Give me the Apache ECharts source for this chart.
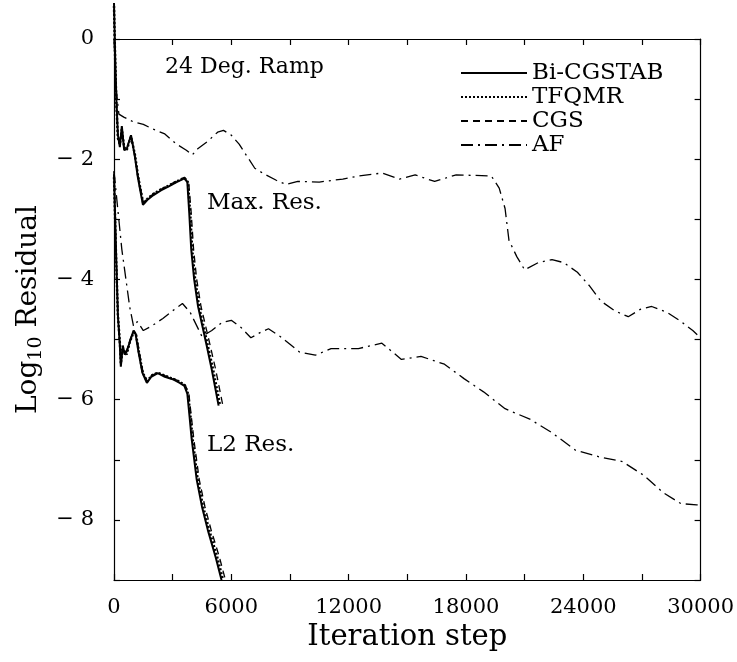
<!DOCTYPE html>
<html>
<head>
<meta charset="utf-8">
<script src="https://cdn.jsdelivr.net/npm/echarts@6/dist/echarts.min.js"></script>
<style>html,body{margin:0;padding:0;background:#fff;}#c{width:737px;height:662px;}</style>
</head>
<body>
<div id="c"></div>
<script>
// ---- data (iteration step, log10 residual) ----
const xTicks = [0, 6000, 12000, 18000, 24000, 30000];
const yTicks = [0, -2, -4, -6, -8];
const legendNames = ['Bi-CGSTAB', 'TFQMR', 'CGS', 'AF'];

const bicgstabMax = [[0,0.6],[60,-0.3],[120,-1.0],[200,-1.6],[300,-1.8],[400,-1.45],[520,-1.85],[650,-1.83],[870,-1.6],[1070,-1.96],[1220,-2.3],[1480,-2.76],[1700,-2.68],[2000,-2.6],[2400,-2.52],[2800,-2.45],[3200,-2.38],[3600,-2.32],[3750,-2.38],[3850,-2.9],[3950,-3.5],[4100,-4.0],[4300,-4.45],[4740,-5.1],[5000,-5.5],[5350,-6.1]];
const tfqmrMax = [[0,0.55],[60,-0.35],[120,-1.05],[200,-1.65],[300,-1.75],[400,-1.5],[520,-1.8],[650,-1.85],[870,-1.62],[1070,-1.92],[1240,-2.3],[1500,-2.74],[1700,-2.66],[2000,-2.58],[2400,-2.5],[2800,-2.44],[3200,-2.37],[3600,-2.31],[3780,-2.38],[3900,-2.9],[4000,-3.5],[4150,-4.0],[4350,-4.45],[4800,-5.1],[5070,-5.5],[5430,-6.1]];
const cgsMax = [[0,0.5],[60,-0.4],[120,-1.1],[200,-1.6],[300,-1.78],[400,-1.5],[520,-1.82],[650,-1.8],[870,-1.62],[1070,-1.95],[1250,-2.3],[1500,-2.72],[1700,-2.66],[2000,-2.58],[2400,-2.5],[2800,-2.43],[3200,-2.36],[3600,-2.3],[3820,-2.38],[3950,-2.9],[4070,-3.5],[4230,-4.0],[4450,-4.45],[4920,-5.1],[5200,-5.5],[5600,-6.15]];
const afMax = [[0,0],[100,-0.8],[250,-1.25],[500,-1.3],[1000,-1.38],[1500,-1.42],[2000,-1.5],[2600,-1.58],[3200,-1.75],[3700,-1.85],[4000,-1.93],[4300,-1.82],[4800,-1.7],[5300,-1.55],[5600,-1.52],[6000,-1.6],[6400,-1.75],[6800,-1.95],[7200,-2.15],[7700,-2.25],[8300,-2.35],[8800,-2.42],[9400,-2.37],[10500,-2.38],[11700,-2.33],[12500,-2.28],[13700,-2.23],[14600,-2.33],[15400,-2.26],[16400,-2.37],[17500,-2.26],[18500,-2.27],[19300,-2.28],[19700,-2.48],[20000,-2.82],[20200,-3.35],[20600,-3.62],[21000,-3.84],[21700,-3.72],[22400,-3.67],[23000,-3.72],[23700,-3.88],[24300,-4.1],[24900,-4.36],[25600,-4.52],[26300,-4.62],[26900,-4.5],[27500,-4.45],[28300,-4.55],[29000,-4.7],[29600,-4.85],[30000,-4.97]];

const bicgstabL2 = [[0,-2.25],[100,-3.5],[200,-4.6],[300,-5.1],[350,-5.45],[450,-5.1],[550,-5.25],[650,-5.2],[800,-5.05],[1000,-4.85],[1100,-4.9],[1250,-5.2],[1450,-5.55],[1680,-5.72],[1900,-5.62],[2240,-5.56],[2600,-5.62],[3000,-5.66],[3360,-5.72],[3600,-5.77],[3750,-5.9],[3870,-6.3],[3970,-6.65],[4230,-7.33],[4500,-7.78],[4800,-8.17],[5200,-8.62],[5500,-9.0]];
const tfqmrL2 = [[0,-2.3],[100,-3.55],[200,-4.6],[300,-5.05],[350,-5.4],[450,-5.15],[550,-5.2],[650,-5.25],[800,-5.05],[1000,-4.88],[1120,-4.9],[1270,-5.2],[1470,-5.55],[1700,-5.7],[1900,-5.6],[2240,-5.55],[2600,-5.6],[3000,-5.65],[3360,-5.7],[3620,-5.76],[3790,-5.9],[3920,-6.3],[4020,-6.65],[4280,-7.33],[4560,-7.78],[4870,-8.17],[5280,-8.62],[5580,-9.0]];
const cgsL2 = [[0,-2.2],[100,-3.45],[200,-4.55],[300,-5.1],[350,-5.4],[450,-5.12],[550,-5.22],[650,-5.18],[800,-5.02],[1000,-4.85],[1140,-4.92],[1290,-5.2],[1490,-5.55],[1700,-5.7],[1900,-5.6],[2240,-5.55],[2600,-5.6],[3000,-5.64],[3360,-5.7],[3650,-5.76],[3830,-5.9],[3960,-6.3],[4080,-6.65],[4360,-7.33],[4650,-7.78],[4970,-8.17],[5390,-8.62],[5700,-9.0]];
const afL2 = [[0,-2.2],[400,-3.5],[800,-4.45],[1000,-4.78],[1200,-4.7],[1500,-4.85],[1900,-4.78],[2500,-4.65],[3000,-4.52],[3500,-4.4],[3900,-4.55],[4500,-4.95],[5000,-4.85],[5500,-4.72],[6000,-4.68],[6500,-4.8],[7000,-4.97],[7500,-4.88],[7900,-4.82],[8500,-4.95],[9000,-5.08],[9500,-5.21],[10300,-5.26],[11100,-5.15],[12500,-5.15],[13700,-5.06],[14700,-5.33],[15700,-5.28],[16900,-5.41],[17900,-5.65],[18900,-5.87],[20000,-6.15],[21300,-6.33],[22400,-6.55],[23600,-6.84],[24800,-6.95],[26000,-7.03],[27100,-7.26],[28100,-7.55],[29000,-7.73],[29800,-7.75],[30000,-7.75]];

const FONT = 'DejaVu Serif';
const solid = {color:'#000', width:2, type:'solid'};
const dotted = {color:'#000', width:2.4, type:[2,2]};
const dashed = {color:'#000', width:1.3, type:[7,5]};
const dashdot = {color:'#000', width:1.3, type:[12,5,2,5]};

function ser(name, data, ls, z) {
  return {name:name, type:'line', data:data, symbol:'none', clip:false, lineStyle:ls, z:z,
          itemStyle:{color:'#000'}, animation:false};
}

const chart = echarts.init(document.getElementById('c'), null, {renderer:'canvas'});
const tickCommon = {show:true, inside:true, length:6, lineStyle:{color:'#000', width:1.2}};
const lineCommon = {show:true, onZero:false, lineStyle:{color:'#000', width:1.2}};
chart.setOption({
  backgroundColor:'#fff',
  animation:false,
  grid:{left:114, right:34, top:39, bottom:82},
  legend:{
    data:legendNames, orient:'vertical', left:455, top:56, itemWidth:66, itemHeight:14, itemGap:0,
    itemStyle:{opacity:0, borderWidth:0},
    textStyle:{fontFamily:FONT, fontSize:23, color:'#000', lineHeight:24}, selectedMode:false
  },
  xAxis:[
    {type:'value', min:0, max:30000, interval:3000, position:'bottom',
     axisLine:lineCommon, axisTick:tickCommon, splitLine:{show:false},
     axisLabel:{fontFamily:FONT, fontSize:21, color:'#000', margin:17,
       formatter:function(v){ return xTicks.indexOf(v) >= 0 ? String(v) : ''; }},
     name:'Iteration step', nameLocation:'middle', nameGap:42,
     nameTextStyle:{fontFamily:FONT, fontSize:29, color:'#000'}},
    {type:'value', min:0, max:30000, interval:3000, position:'top',
     axisLine:lineCommon, axisTick:tickCommon, axisLabel:{show:false}, splitLine:{show:false}}
  ],
  yAxis:[
    {type:'value', min:-9, max:0, interval:1, position:'left',
     axisLine:lineCommon, axisTick:tickCommon, splitLine:{show:false},
     axisLabel:{fontFamily:FONT, fontSize:21, color:'#000', margin:20,
       formatter:function(v){ if (yTicks.indexOf(v) < 0) return ''; return v === 0 ? '0' : '\u2212 ' + Math.abs(v); }},
     name:'{a|Log}{s|10}{a| Residual}', nameLocation:'middle', nameGap:68, nameRotate:90,
     nameTextStyle:{rich:{a:{fontFamily:FONT, fontSize:28, color:'#000'}, s:{fontFamily:FONT, fontSize:19, color:'#000', verticalAlign:'bottom', padding:[14,0,0,0]}}}},
    {type:'value', min:-9, max:0, interval:1, position:'right',
     axisLine:lineCommon, axisTick:tickCommon, axisLabel:{show:false}, splitLine:{show:false}}
  ],
  graphic:[
    {type:'text', left:165, top:56, style:{text:'24 Deg. Ramp', font:'22px "DejaVu Serif"', fill:'#000'}},
    {type:'text', left:207, top:192, style:{text:'Max. Res.', font:'23px "DejaVu Serif"', fill:'#000'}},
    {type:'text', left:207, top:434, style:{text:'L2 Res.', font:'23px "DejaVu Serif"', fill:'#000'}}
  ],
  series:[
    ser('AF', afMax, dashdot, 1),
    ser('AF', afL2, dashdot, 1),
    ser('CGS', cgsMax, dashed, 2),
    ser('CGS', cgsL2, dashed, 2),
    ser('TFQMR', tfqmrMax, dotted, 3),
    ser('TFQMR', tfqmrL2, dotted, 3),
    ser('Bi-CGSTAB', bicgstabMax, solid, 4),
    ser('Bi-CGSTAB', bicgstabL2, solid, 4)
  ]
});
</script>
</body>
</html>
